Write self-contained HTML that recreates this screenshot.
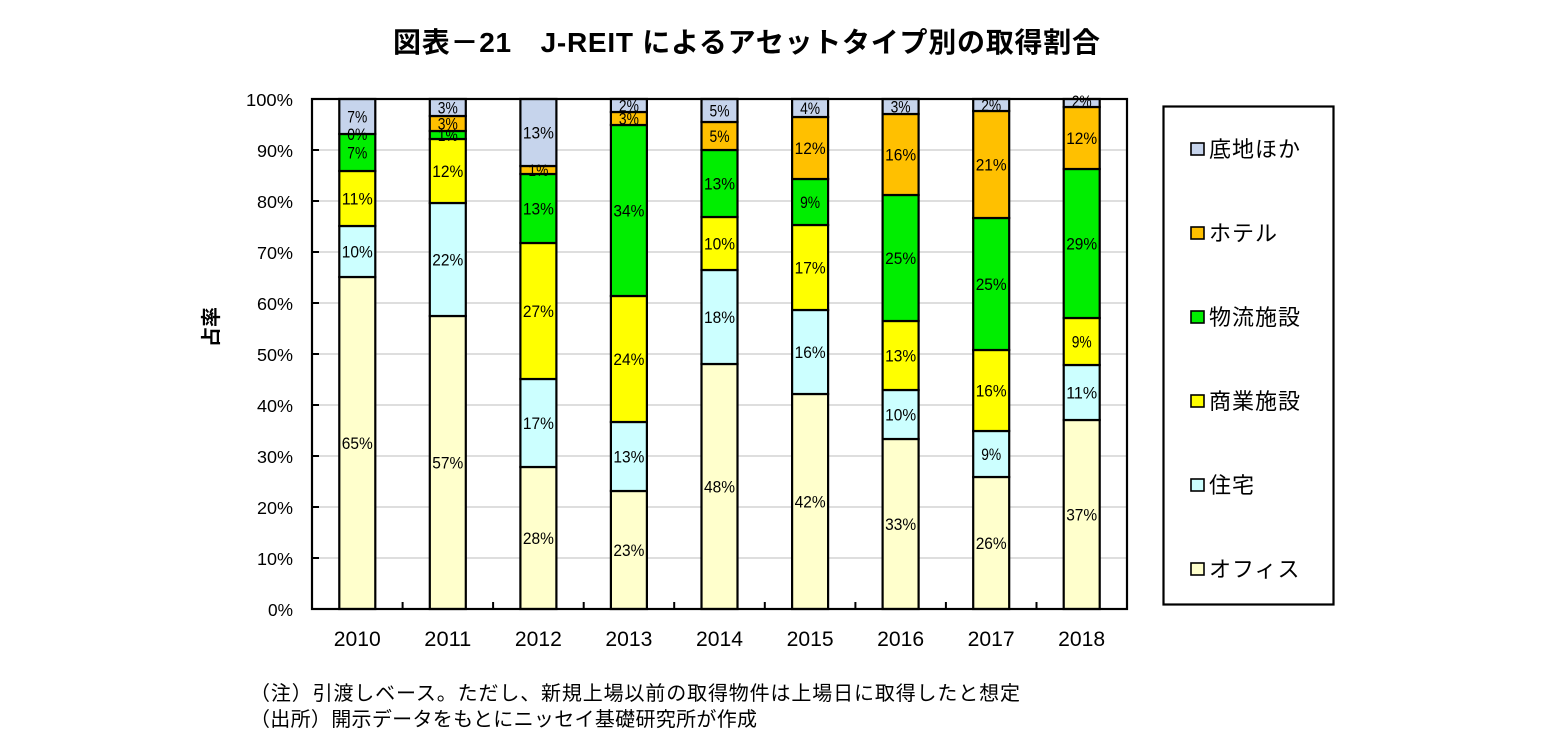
<!DOCTYPE html>
<html><head><meta charset="utf-8"><style>
html,body{margin:0;padding:0;background:#fff;}
svg{display:block;}
text{font-family:"Liberation Sans","Noto Sans CJK JP",sans-serif;fill:#000;}
.lb{font-size:16.5px;}
.yt{font-size:17.5px;}
.xt{font-size:21px;}
.lg{font-size:22px;letter-spacing:1px;}
.ft{font-size:20px;}
</style></head><body>
<svg width="1555" height="756" viewBox="0 0 1555 756" xmlns="http://www.w3.org/2000/svg">
<rect x="0" y="0" width="1555" height="756" fill="#fff"/>
<text x="393" y="52" font-size="28" font-weight="bold" textLength="707">図表－21　J-REIT によるアセットタイプ別の取得割合</text>

<g stroke="#d4d4d4" stroke-width="1.6">
<line x1="312" y1="150" x2="1127" y2="150"/>
<line x1="312" y1="201" x2="1127" y2="201"/>
<line x1="312" y1="252" x2="1127" y2="252"/>
<line x1="312" y1="303" x2="1127" y2="303"/>
<line x1="312" y1="354" x2="1127" y2="354"/>
<line x1="312" y1="405" x2="1127" y2="405"/>
<line x1="312" y1="456" x2="1127" y2="456"/>
<line x1="312" y1="507" x2="1127" y2="507"/>
<line x1="312" y1="558" x2="1127" y2="558"/>
</g>
<g stroke="#000" stroke-width="2">
<line x1="312" y1="150" x2="319" y2="150"/>
<line x1="312" y1="201" x2="319" y2="201"/>
<line x1="312" y1="252" x2="319" y2="252"/>
<line x1="312" y1="303" x2="319" y2="303"/>
<line x1="312" y1="354" x2="319" y2="354"/>
<line x1="312" y1="405" x2="319" y2="405"/>
<line x1="312" y1="456" x2="319" y2="456"/>
<line x1="312" y1="507" x2="319" y2="507"/>
<line x1="312" y1="558" x2="319" y2="558"/>
<line x1="402.6" y1="602" x2="402.6" y2="609"/>
<line x1="493.1" y1="602" x2="493.1" y2="609"/>
<line x1="583.7" y1="602" x2="583.7" y2="609"/>
<line x1="674.2" y1="602" x2="674.2" y2="609"/>
<line x1="764.8" y1="602" x2="764.8" y2="609"/>
<line x1="855.4" y1="602" x2="855.4" y2="609"/>
<line x1="945.9" y1="602" x2="945.9" y2="609"/>
<line x1="1036.5" y1="602" x2="1036.5" y2="609"/>
</g>

<g stroke="#000" stroke-width="2.2">
<!-- 2010 -->
<rect x="339.3" y="277" width="36" height="332" fill="#ffffcc"/>
<rect x="339.3" y="226" width="36" height="51" fill="#ccffff"/>
<rect x="339.3" y="171" width="36" height="55" fill="#ffff00"/>
<rect x="339.3" y="134" width="36" height="37" fill="#00ee00"/>
<rect x="339.3" y="99" width="36" height="35" fill="#c6d4ec"/>
<!-- 2011 -->
<rect x="429.8" y="316" width="36" height="293" fill="#ffffcc"/>
<rect x="429.8" y="203" width="36" height="113" fill="#ccffff"/>
<rect x="429.8" y="139" width="36" height="64" fill="#ffff00"/>
<rect x="429.8" y="131" width="36" height="8" fill="#00ee00"/>
<rect x="429.8" y="116" width="36" height="15" fill="#ffc000"/>
<rect x="429.8" y="99" width="36" height="17" fill="#c6d4ec"/>
<!-- 2012 -->
<rect x="520.4" y="467" width="36" height="142" fill="#ffffcc"/>
<rect x="520.4" y="379" width="36" height="88" fill="#ccffff"/>
<rect x="520.4" y="243" width="36" height="136" fill="#ffff00"/>
<rect x="520.4" y="174" width="36" height="69" fill="#00ee00"/>
<rect x="520.4" y="166" width="36" height="8" fill="#ffc000"/>
<rect x="520.4" y="99" width="36" height="67" fill="#c6d4ec"/>
<!-- 2013 -->
<rect x="610.9" y="491" width="36" height="118" fill="#ffffcc"/>
<rect x="610.9" y="422" width="36" height="69" fill="#ccffff"/>
<rect x="610.9" y="296" width="36" height="126" fill="#ffff00"/>
<rect x="610.9" y="125" width="36" height="171" fill="#00ee00"/>
<rect x="610.9" y="112" width="36" height="13" fill="#ffc000"/>
<rect x="610.9" y="99" width="36" height="13" fill="#c6d4ec"/>
<!-- 2014 -->
<rect x="701.5" y="364" width="36" height="245" fill="#ffffcc"/>
<rect x="701.5" y="270" width="36" height="94" fill="#ccffff"/>
<rect x="701.5" y="217" width="36" height="53" fill="#ffff00"/>
<rect x="701.5" y="150" width="36" height="67" fill="#00ee00"/>
<rect x="701.5" y="122" width="36" height="28" fill="#ffc000"/>
<rect x="701.5" y="99" width="36" height="23" fill="#c6d4ec"/>
<!-- 2015 -->
<rect x="792.1" y="394" width="36" height="215" fill="#ffffcc"/>
<rect x="792.1" y="310" width="36" height="84" fill="#ccffff"/>
<rect x="792.1" y="225" width="36" height="85" fill="#ffff00"/>
<rect x="792.1" y="179" width="36" height="46" fill="#00ee00"/>
<rect x="792.1" y="117" width="36" height="62" fill="#ffc000"/>
<rect x="792.1" y="99" width="36" height="18" fill="#c6d4ec"/>
<!-- 2016 -->
<rect x="882.6" y="439" width="36" height="170" fill="#ffffcc"/>
<rect x="882.6" y="390" width="36" height="49" fill="#ccffff"/>
<rect x="882.6" y="321" width="36" height="69" fill="#ffff00"/>
<rect x="882.6" y="195" width="36" height="126" fill="#00ee00"/>
<rect x="882.6" y="114" width="36" height="81" fill="#ffc000"/>
<rect x="882.6" y="99" width="36" height="15" fill="#c6d4ec"/>
<!-- 2017 -->
<rect x="973.2" y="477" width="36" height="132" fill="#ffffcc"/>
<rect x="973.2" y="431" width="36" height="46" fill="#ccffff"/>
<rect x="973.2" y="350" width="36" height="81" fill="#ffff00"/>
<rect x="973.2" y="218" width="36" height="132" fill="#00ee00"/>
<rect x="973.2" y="111" width="36" height="107" fill="#ffc000"/>
<rect x="973.2" y="99" width="36" height="12" fill="#c6d4ec"/>
<!-- 2018 -->
<rect x="1063.7" y="420" width="36" height="189" fill="#ffffcc"/>
<rect x="1063.7" y="365" width="36" height="55" fill="#ccffff"/>
<rect x="1063.7" y="318" width="36" height="47" fill="#ffff00"/>
<rect x="1063.7" y="169" width="36" height="149" fill="#00ee00"/>
<rect x="1063.7" y="107" width="36" height="62" fill="#ffc000"/>
<rect x="1063.7" y="99" width="36" height="8" fill="#c6d4ec"/>
</g>

<rect x="312" y="99" width="815" height="510" fill="none" stroke="#000" stroke-width="2.2"/>

<g class="lb" text-anchor="middle">
<text x="357.3" y="449" textLength="31" lengthAdjust="spacingAndGlyphs">65%</text>
<text x="357.3" y="257.5" textLength="31" lengthAdjust="spacingAndGlyphs">10%</text>
<text x="357.3" y="204.5" textLength="31" lengthAdjust="spacingAndGlyphs">11%</text>
<text x="357.3" y="158.5" textLength="20" lengthAdjust="spacingAndGlyphs">7%</text>
<text x="357.3" y="140" textLength="20" lengthAdjust="spacingAndGlyphs">0%</text>
<text x="357.3" y="122.5" textLength="20" lengthAdjust="spacingAndGlyphs">7%</text>

<text x="447.8" y="468.5" textLength="31" lengthAdjust="spacingAndGlyphs">57%</text>
<text x="447.8" y="265.5" textLength="31" lengthAdjust="spacingAndGlyphs">22%</text>
<text x="447.8" y="177" textLength="31" lengthAdjust="spacingAndGlyphs">12%</text>
<text x="447.8" y="141" textLength="20" lengthAdjust="spacingAndGlyphs">1%</text>
<text x="447.8" y="129.5" textLength="20" lengthAdjust="spacingAndGlyphs">3%</text>
<text x="447.8" y="113.5" textLength="20" lengthAdjust="spacingAndGlyphs">3%</text>

<text x="538.4" y="544" textLength="31" lengthAdjust="spacingAndGlyphs">28%</text>
<text x="538.4" y="429" textLength="31" lengthAdjust="spacingAndGlyphs">17%</text>
<text x="538.4" y="317" textLength="31" lengthAdjust="spacingAndGlyphs">27%</text>
<text x="538.4" y="214.5" textLength="31" lengthAdjust="spacingAndGlyphs">13%</text>
<text x="538.4" y="176" textLength="20" lengthAdjust="spacingAndGlyphs">1%</text>
<text x="538.4" y="138.5" textLength="31" lengthAdjust="spacingAndGlyphs">13%</text>

<text x="628.9" y="556" textLength="31" lengthAdjust="spacingAndGlyphs">23%</text>
<text x="628.9" y="462.5" textLength="31" lengthAdjust="spacingAndGlyphs">13%</text>
<text x="628.9" y="365" textLength="31" lengthAdjust="spacingAndGlyphs">24%</text>
<text x="628.9" y="216.5" textLength="31" lengthAdjust="spacingAndGlyphs">34%</text>
<text x="628.9" y="124.5" textLength="20" lengthAdjust="spacingAndGlyphs">3%</text>
<text x="628.9" y="111.5" textLength="20" lengthAdjust="spacingAndGlyphs">2%</text>

<text x="719.5" y="492.5" textLength="31" lengthAdjust="spacingAndGlyphs">48%</text>
<text x="719.5" y="323" textLength="31" lengthAdjust="spacingAndGlyphs">18%</text>
<text x="719.5" y="249.5" textLength="31" lengthAdjust="spacingAndGlyphs">10%</text>
<text x="719.5" y="189.5" textLength="31" lengthAdjust="spacingAndGlyphs">13%</text>
<text x="719.5" y="142" textLength="20" lengthAdjust="spacingAndGlyphs">5%</text>
<text x="719.5" y="116.5" textLength="20" lengthAdjust="spacingAndGlyphs">5%</text>

<text x="810.1" y="507.5" textLength="31" lengthAdjust="spacingAndGlyphs">42%</text>
<text x="810.1" y="358" textLength="31" lengthAdjust="spacingAndGlyphs">16%</text>
<text x="810.1" y="273.5" textLength="31" lengthAdjust="spacingAndGlyphs">17%</text>
<text x="810.1" y="208" textLength="20" lengthAdjust="spacingAndGlyphs">9%</text>
<text x="810.1" y="154" textLength="31" lengthAdjust="spacingAndGlyphs">12%</text>
<text x="810.1" y="114" textLength="20" lengthAdjust="spacingAndGlyphs">4%</text>

<text x="900.6" y="530" textLength="31" lengthAdjust="spacingAndGlyphs">33%</text>
<text x="900.6" y="420.5" textLength="31" lengthAdjust="spacingAndGlyphs">10%</text>
<text x="900.6" y="361.5" textLength="31" lengthAdjust="spacingAndGlyphs">13%</text>
<text x="900.6" y="264" textLength="31" lengthAdjust="spacingAndGlyphs">25%</text>
<text x="900.6" y="160.5" textLength="31" lengthAdjust="spacingAndGlyphs">16%</text>
<text x="900.6" y="112.5" textLength="20" lengthAdjust="spacingAndGlyphs">3%</text>

<text x="991.2" y="549" textLength="31" lengthAdjust="spacingAndGlyphs">26%</text>
<text x="991.2" y="460" textLength="20" lengthAdjust="spacingAndGlyphs">9%</text>
<text x="991.2" y="396.5" textLength="31" lengthAdjust="spacingAndGlyphs">16%</text>
<text x="991.2" y="290" textLength="31" lengthAdjust="spacingAndGlyphs">25%</text>
<text x="991.2" y="170.5" textLength="31" lengthAdjust="spacingAndGlyphs">21%</text>
<text x="991.2" y="111" textLength="20" lengthAdjust="spacingAndGlyphs">2%</text>

<text x="1081.7" y="520.5" textLength="31" lengthAdjust="spacingAndGlyphs">37%</text>
<text x="1081.7" y="398.5" textLength="31" lengthAdjust="spacingAndGlyphs">11%</text>
<text x="1081.7" y="347.5" textLength="20" lengthAdjust="spacingAndGlyphs">9%</text>
<text x="1081.7" y="249.5" textLength="31" lengthAdjust="spacingAndGlyphs">29%</text>
<text x="1081.7" y="144" textLength="31" lengthAdjust="spacingAndGlyphs">12%</text>
<text x="1081.7" y="107" textLength="20" lengthAdjust="spacingAndGlyphs">2%</text>
</g>

<g class="yt" text-anchor="end">
<text x="293" y="106" textLength="47" lengthAdjust="spacingAndGlyphs">100%</text>
<text x="293" y="157" textLength="36" lengthAdjust="spacingAndGlyphs">90%</text>
<text x="293" y="208" textLength="36" lengthAdjust="spacingAndGlyphs">80%</text>
<text x="293" y="259" textLength="36" lengthAdjust="spacingAndGlyphs">70%</text>
<text x="293" y="310" textLength="36" lengthAdjust="spacingAndGlyphs">60%</text>
<text x="293" y="361" textLength="36" lengthAdjust="spacingAndGlyphs">50%</text>
<text x="293" y="412" textLength="36" lengthAdjust="spacingAndGlyphs">40%</text>
<text x="293" y="463" textLength="36" lengthAdjust="spacingAndGlyphs">30%</text>
<text x="293" y="514" textLength="36" lengthAdjust="spacingAndGlyphs">20%</text>
<text x="293" y="565" textLength="36" lengthAdjust="spacingAndGlyphs">10%</text>
<text x="293" y="616" textLength="25" lengthAdjust="spacingAndGlyphs">0%</text>
</g>

<g class="xt" text-anchor="middle">
<text x="357.3" y="646" textLength="47" lengthAdjust="spacingAndGlyphs">2010</text>
<text x="447.8" y="646" textLength="47" lengthAdjust="spacingAndGlyphs">2011</text>
<text x="538.4" y="646" textLength="47" lengthAdjust="spacingAndGlyphs">2012</text>
<text x="628.9" y="646" textLength="47" lengthAdjust="spacingAndGlyphs">2013</text>
<text x="719.5" y="646" textLength="47" lengthAdjust="spacingAndGlyphs">2014</text>
<text x="810.1" y="646" textLength="47" lengthAdjust="spacingAndGlyphs">2015</text>
<text x="900.6" y="646" textLength="47" lengthAdjust="spacingAndGlyphs">2016</text>
<text x="991.2" y="646" textLength="47" lengthAdjust="spacingAndGlyphs">2017</text>
<text x="1081.7" y="646" textLength="47" lengthAdjust="spacingAndGlyphs">2018</text>
</g>

<text transform="translate(218,327) rotate(-90)" text-anchor="middle" font-size="20" font-weight="bold">占率</text>

<rect x="1163.5" y="106.5" width="170" height="498" fill="#fff" stroke="#000" stroke-width="2.2"/>
<g stroke="#000" stroke-width="1.6">
<rect x="1191" y="143" width="13" height="12" fill="#c6d4ec"/>
<rect x="1191" y="227" width="13" height="12" fill="#ffc000"/>
<rect x="1191" y="311" width="13" height="12" fill="#00ee00"/>
<rect x="1191" y="395" width="13" height="12" fill="#ffff00"/>
<rect x="1191" y="479" width="13" height="12" fill="#ccffff"/>
<rect x="1191" y="563" width="13" height="12" fill="#ffffcc"/>
</g>
<g class="lg">
<text x="1209" y="157">底地ほか</text>
<text x="1209" y="241">ホテル</text>
<text x="1209" y="325">物流施設</text>
<text x="1209" y="409">商業施設</text>
<text x="1209" y="493">住宅</text>
<text x="1209" y="577">オフィス</text>
</g>

<text class="ft" x="250" y="700" textLength="770">（注）引渡しベース。ただし、新規上場以前の取得物件は上場日に取得したと想定</text>
<text class="ft" x="250" y="726" textLength="507">（出所）開示データをもとにニッセイ基礎研究所が作成</text>
</svg>
</body></html>
